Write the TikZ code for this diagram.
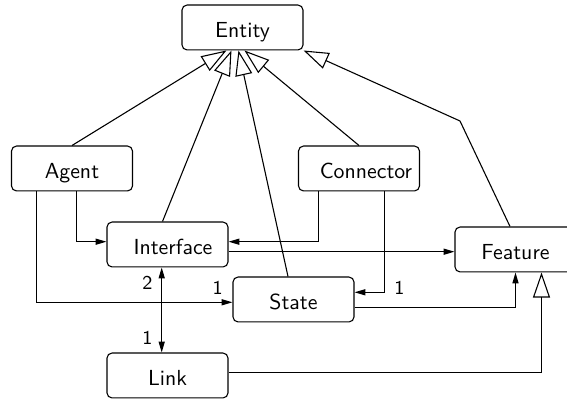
\documentclass[tikz,border=0pt]{standalone}
\usetikzlibrary{arrows.meta,calc}
\begin{document}
\begin{tikzpicture}[x=0.4587pt,y=-0.4587pt,
  every node/.style={font=\sffamily},
  cls/.style={draw, rounded corners=2.3pt, minimum width=55.5pt, minimum height=20.6pt,
              inner sep=0pt, line width=0.5pt, text height=9.2pt, text depth=0pt},
  conn/.style={line width=0.5pt},
  gen/.style={conn, -{Triangle[open,length=11.5pt,width=7.8pt]}},
  assoc/.style={conn, -{Triangle[length=5pt,width=2.8pt]}},
  biassoc/.style={conn, {Triangle[length=5pt,width=2.8pt]}-{Triangle[length=5pt,width=2.8pt]}},
  mult/.style={inner sep=0pt, font=\sffamily\small}
]
\useasboundingbox (0,0) rectangle (567,403);

% classes
\node[cls] (entity)  at (242.5,27.5)  {Entity};
\node[cls] (agent)   at (72,168.5)    {Agent};
\node[cls] (iface)   at (167.5,244.5) {\hspace*{5pt}Interface};
\node[cls] (connr)   at (359,168.5)   {\hspace*{6.4pt}Connector};
\node[cls] (feature) at (515.5,249.5) {Feature};
\node[cls] (state)   at (293.5,299.5) {State};
\node[cls] (link)    at (167.5,375.5) {Link};

% ports on the bottom of Entity
\coordinate (e1) at ($(entity.south west)+(45,0)$);
\coordinate (e2) at ($(entity.south west)+(50,0)$);
\coordinate (e3) at ($(entity.south west)+(57,0)$);
\coordinate (e4) at ($(entity.south west)+(63,0)$);
\coordinate (fbend) at (460,121);

% generalizations
\draw[gen] (agent.north) -- (e1);
\draw[gen] ($(iface.north)+(-5,0)$) -- (e2);
\draw[gen] ($(state.north)+(-5.5,0)$) -- (e3);
\draw[gen] (connr.north) -- (e4);
\draw[gen] ($(feature.north)+(-5.5,0)$) -- (fbend) -- (entity.south east);
\draw[gen] ($(link.east)+(0,-2.8)$) -| ($(feature.south)+(26,0)$);

% associations
\draw[assoc] ($(agent.south)+(4.7,0)$) |- ($(iface.west)+(0,-2.8)$);
\draw[assoc] ($(agent.south)+(-35.5,0)$) |- ($(state.west)+(0,2.8)$);
\draw[assoc] ($(connr.south)+(-40.7,0)$) |- ($(iface.east)+(0,-2.8)$);
\coordinate (ifout) at ($(iface.east)+(0,7.2)$);
\draw[assoc] (ifout) -- (ifout -| feature.west);
\draw[assoc] ($(connr.south)+(25.3,0)$) |- ($(state.east)+(0,-7.2)$);
\draw[assoc] ($(state.east)+(0,7.8)$) -| (feature.south);
\draw[biassoc] ($(iface.south)+(-5.8,0)$) -- ($(link.north)+(-5.8,0)$);

% multiplicities
\node[mult] (m1) at (147.5,283.3) {2};
\node[mult] (m2) at (147.5,338.3) {1};
\node[mult] (m3) at (217.7,288.3) {1};
\node[mult] (m4) at (399.3,287.7) {1};
\end{tikzpicture}
\end{document}
